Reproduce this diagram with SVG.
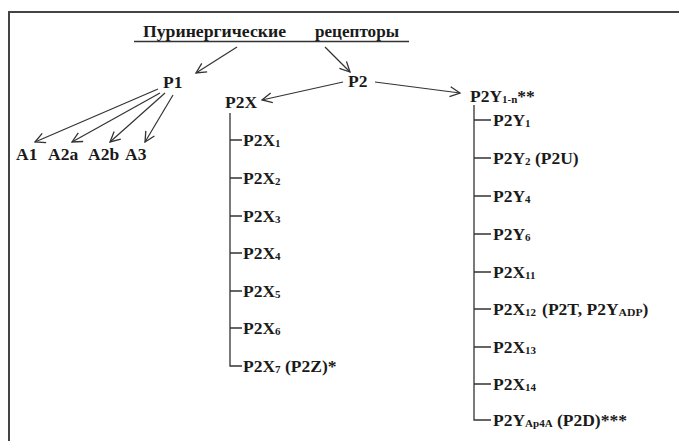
<svg xmlns="http://www.w3.org/2000/svg" width="679" height="441" viewBox="0 0 679 441">
  <style>
    .sub { font-size: 11px; }
    .ln { stroke: #333; stroke-width: 1.3; fill: none; }
    .arr { stroke: #333; stroke-width: 1.2; fill: none; marker-end: url(#head); }
    .frame { stroke: #444; stroke-width: 2; fill: none; }
  </style>
  <defs>
    <marker id="head" viewBox="0 0 12 12" refX="11" refY="6" markerWidth="12" markerHeight="12" markerUnits="userSpaceOnUse" orient="auto">
      <path d="M1,1 L11,6 L1,11" stroke="#333" stroke-width="1.3" fill="none"/>
    </marker>
  </defs>
  <rect width="679" height="441" fill="#fff"/>
  <!-- frame: top and left edges -->
  <path class="frame" d="M9,445 V12 H679"/>

  <!-- connectors -->
  <g id="connectors">
    <line class="arr" x1="237" y1="47" x2="196" y2="73"/>
    <line class="arr" x1="325" y1="47" x2="350" y2="72"/>
    <line class="arr" x1="158" y1="89" x2="35" y2="142"/>
    <line class="arr" x1="160" y1="93" x2="72" y2="142"/>
    <line class="arr" x1="165" y1="93" x2="110" y2="142"/>
    <line class="arr" x1="173" y1="95" x2="145" y2="142"/>
    <line class="arr" x1="343" y1="82" x2="262" y2="100"/>
    <line class="arr" x1="375" y1="82" x2="460" y2="93"/>
    <!-- P2X tree -->
    <path class="ln" d="M230,113 V366 H242 M230,140 H242 M230,178 H242 M230,216 H242 M230,253 H242 M230,291 H242 M230,328 H242"/>
    <!-- P2Y tree -->
    <path class="ln" d="M474,105 V420 H491 M474,120 H491 M474,158 H491 M474,196 H491 M474,234 H491 M474,272 H491 M474,309 H491 M474,347 H491 M474,384 H491"/>
  </g>

  <g font-family="Liberation Serif, Times New Roman, serif" font-weight="bold" font-size="17.5" fill="#1a1a1a">
    <g id="title">
      <text x="143" y="37" textLength="143" lengthAdjust="spacingAndGlyphs">Пуринергические</text>
      <text x="315" y="37" textLength="84" lengthAdjust="spacingAndGlyphs">рецепторы</text>
      <line x1="134" y1="41.5" x2="409" y2="41.5" stroke="#333" stroke-width="1.4"/>
    </g>

    <g id="p1"><text x="163" y="88">P1</text></g>
    <g id="p2"><text x="348" y="87">P2</text></g>
    <g id="a1"><text x="16" y="160">A1</text></g>
    <g id="a2a"><text x="48" y="160">A2a</text></g>
    <g id="a2b"><text x="88" y="160">A2b</text></g>
    <g id="a3"><text x="125" y="160">A3</text></g>

    <g id="p2x"><text x="225" y="108">P2X</text></g>
    <g id="p2x1"><text x="243" y="146">P2X<tspan class="sub" dy="1">1</tspan></text></g>
    <g id="p2x2"><text x="243" y="184">P2X<tspan class="sub" dy="1">2</tspan></text></g>
    <g id="p2x3"><text x="243" y="222">P2X<tspan class="sub" dy="1">3</tspan></text></g>
    <g id="p2x4"><text x="243" y="259">P2X<tspan class="sub" dy="1">4</tspan></text></g>
    <g id="p2x5"><text x="243" y="297">P2X<tspan class="sub" dy="1">5</tspan></text></g>
    <g id="p2x6"><text x="243" y="334">P2X<tspan class="sub" dy="1">6</tspan></text></g>
    <g id="p2x7"><text x="243" y="372">P2X<tspan class="sub" dy="1">7</tspan><tspan dy="-1"> (P2Z)*</tspan></text></g>

    <g id="p2y"><text x="470" y="102">P2Y<tspan class="sub" dy="1">1-n</tspan><tspan dy="-1">**</tspan></text></g>
    <g id="p2y1"><text x="493" y="126">P2Y<tspan class="sub" dy="1">1</tspan></text></g>
    <g id="p2y2"><text x="493" y="164">P2Y<tspan class="sub" dy="1">2</tspan><tspan dy="-1"> (P2U)</tspan></text></g>
    <g id="p2y4"><text x="493" y="202">P2Y<tspan class="sub" dy="1">4</tspan></text></g>
    <g id="p2y6"><text x="493" y="240">P2Y<tspan class="sub" dy="1">6</tspan></text></g>
    <g id="p2x11"><text x="493" y="278">P2X<tspan class="sub" dy="1">11</tspan></text></g>
    <g id="p2x12"><text x="493" y="315">P2X<tspan class="sub" dy="1">12</tspan><tspan dx="6" dy="-1">(P2T, P2Y</tspan><tspan class="sub" dy="1" textLength="24" lengthAdjust="spacingAndGlyphs">ADP</tspan><tspan dy="-1">)</tspan></text></g>
    <g id="p2x13"><text x="493" y="353">P2X<tspan class="sub" dy="1">13</tspan></text></g>
    <g id="p2x14"><text x="493" y="390">P2X<tspan class="sub" dy="1">14</tspan></text></g>
    <g id="p2yap4a"><text x="493" y="426">P2Y<tspan class="sub" dy="1">Ap4A</tspan><tspan dy="-1"> (P2D)***</tspan></text></g>
  </g>
</svg>
